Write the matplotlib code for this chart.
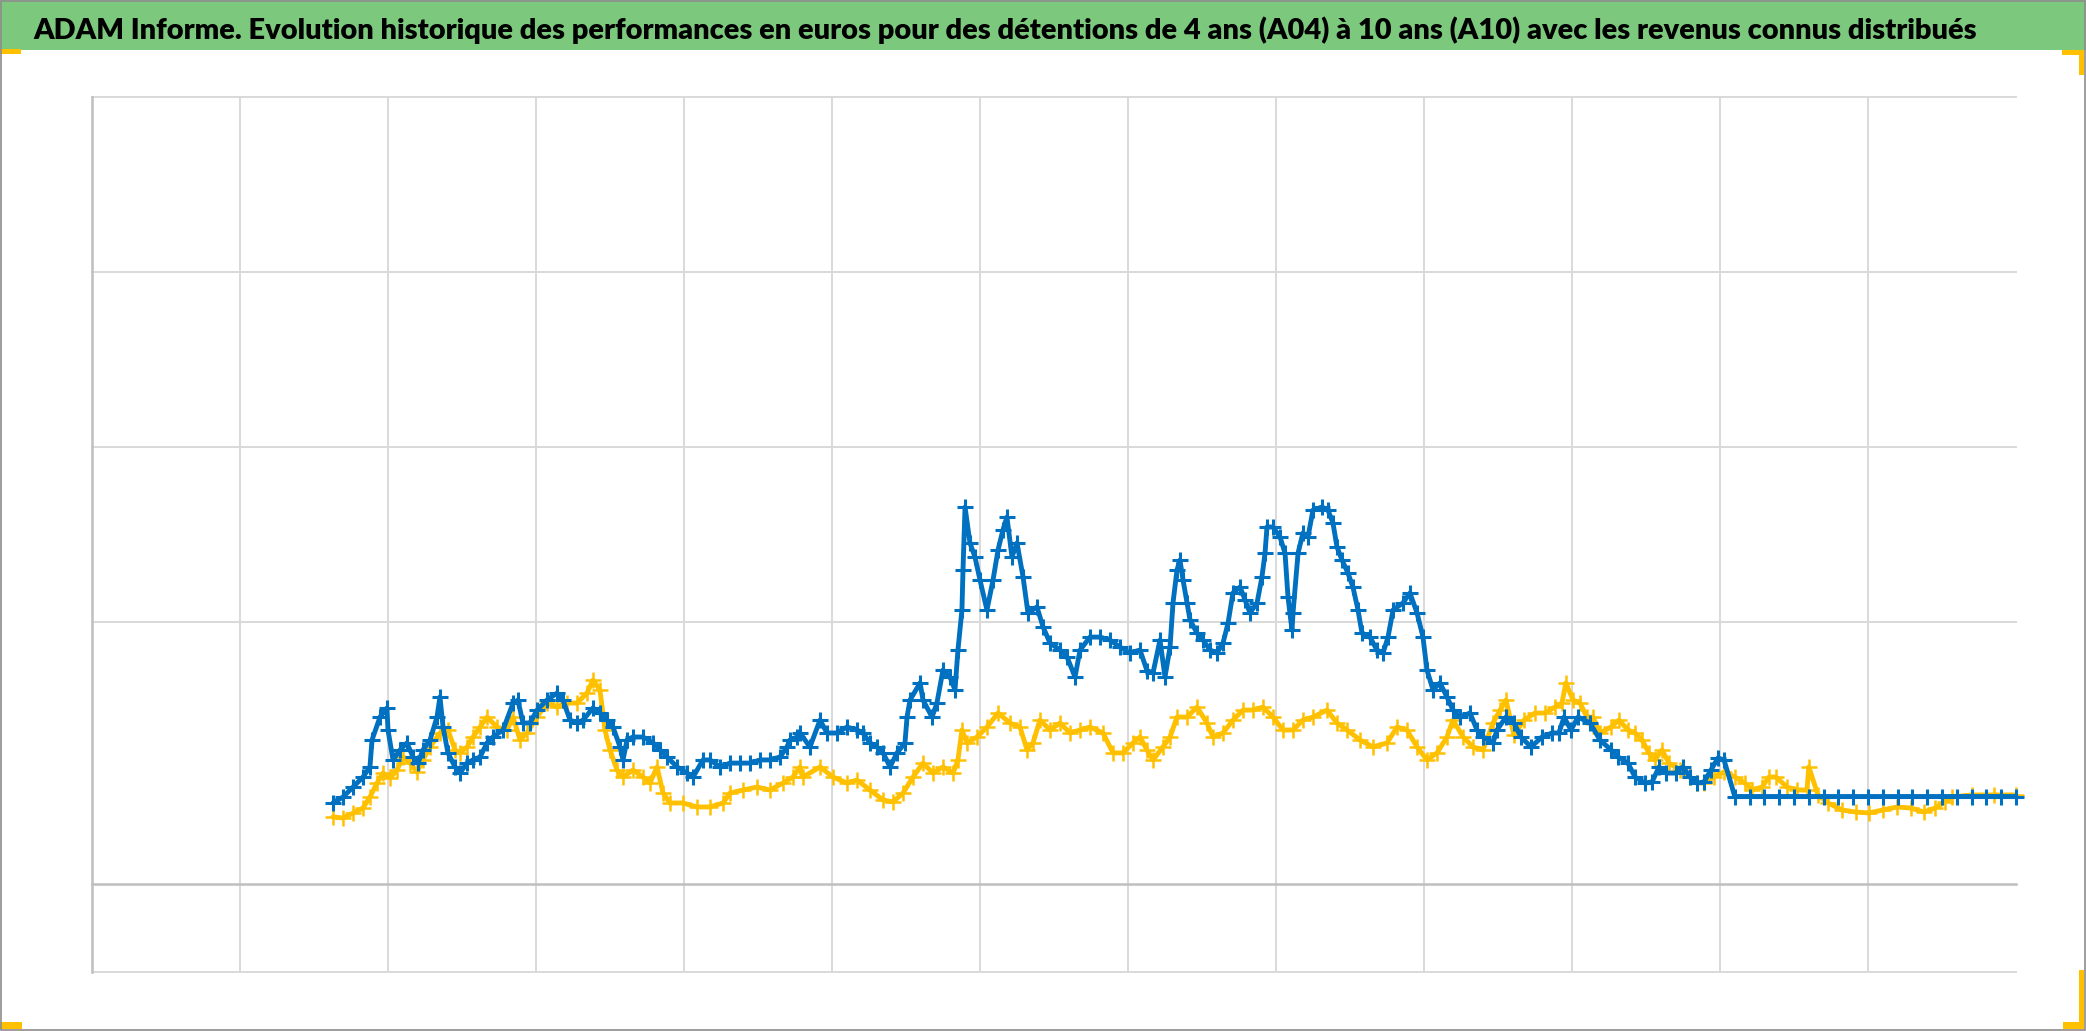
import matplotlib
matplotlib.use("Agg")
import matplotlib.pyplot as plt
from matplotlib import font_manager as fm
from matplotlib.patches import Rectangle

TITLE = ("ADAM Informe. Evolution historique des performances en euros pour des "
         "détentions de 4 ans (A04) à 10 ans (A10) avec les revenus connus distribués")

# ---- data (x in axis units 0..13, y in axis units, axis crosses at 0) ----
blue_x = [1.628, 1.696, 1.764, 1.831, 1.878, 1.892, 1.946, 1.993, 2.000, 2.034,
          2.081, 2.128, 2.169, 2.203, 2.236, 2.284, 2.331, 2.351, 2.372, 2.405,
          2.453, 2.486, 2.534, 2.574, 2.622, 2.669, 2.709, 2.777, 2.845, 2.878,
          2.912, 2.959, 3.007, 3.074, 3.142, 3.182, 3.230, 3.277, 3.318, 3.385,
          3.432, 3.480, 3.520, 3.568, 3.588, 3.615, 3.655, 3.723, 3.791, 3.838,
          3.885, 3.953, 4.020, 4.061, 4.128, 4.176, 4.243, 4.311, 4.379, 4.446,
          4.514, 4.581, 4.649, 4.696, 4.716, 4.764, 4.784, 4.851, 4.919, 4.966,
          5.034, 5.101, 5.169, 5.209, 5.257, 5.304, 5.345, 5.392, 5.439, 5.493,
          5.507, 5.527, 5.595, 5.615, 5.676, 5.709, 5.750, 5.797, 5.831, 5.851,
          5.878, 5.885, 5.899, 5.932, 5.966, 6.000, 6.047, 6.088, 6.122, 6.155,
          6.182, 6.216, 6.250, 6.291, 6.324, 6.385, 6.426, 6.473, 6.541, 6.588,
          6.642, 6.676, 6.743, 6.811, 6.878, 6.946, 7.014, 7.081, 7.128, 7.169,
          7.216, 7.250, 7.284, 7.304, 7.331, 7.351, 7.372, 7.399, 7.419, 7.466,
          7.507, 7.554, 7.601, 7.642, 7.676, 7.709, 7.757, 7.791, 7.824, 7.872,
          7.905, 7.926, 7.939, 7.980, 8.027, 8.061, 8.081, 8.108, 8.115, 8.149,
          8.182, 8.216, 8.250, 8.311, 8.351, 8.385, 8.412, 8.446, 8.486, 8.520,
          8.554, 8.581, 8.635, 8.682, 8.723, 8.757, 8.791, 8.858, 8.905, 8.953,
          8.993, 9.020, 9.061, 9.108, 9.155, 9.196, 9.243, 9.311, 9.358, 9.399,
          9.466, 9.493, 9.554, 9.608, 9.655, 9.723, 9.797, 9.865, 9.912, 9.946,
          9.993, 10.041, 10.122, 10.189, 10.264, 10.311, 10.378, 10.426, 10.493, 10.541,
          10.588, 10.635, 10.703, 10.750, 10.797, 10.845, 10.892, 10.939, 10.986, 11.027,
          11.1, 11.2, 11.3, 11.4, 11.5, 11.6, 11.7, 11.8, 11.9, 12.0,
          12.1, 12.2, 12.3, 12.4, 12.5, 12.6, 12.7, 12.8, 12.9, 13.0]
blue_y = [0.463, 0.497, 0.554, 0.611, 0.669, 0.823, 0.954, 1.006, 0.880, 0.709,
          0.766, 0.806, 0.726, 0.691, 0.766, 0.823, 0.954, 1.069, 0.897, 0.749,
          0.669, 0.634, 0.691, 0.709, 0.726, 0.806, 0.840, 0.880, 1.034, 1.051,
          0.920, 0.920, 0.994, 1.051, 1.091, 1.051, 0.937, 0.920, 0.937, 1.006,
          0.977, 0.937, 0.897, 0.783, 0.709, 0.823, 0.840, 0.840, 0.806, 0.766,
          0.726, 0.669, 0.634, 0.611, 0.709, 0.709, 0.669, 0.691, 0.691, 0.691,
          0.709, 0.709, 0.726, 0.783, 0.823, 0.840, 0.863, 0.783, 0.937, 0.863,
          0.863, 0.897, 0.880, 0.863, 0.806, 0.783, 0.749, 0.669, 0.749, 0.806,
          0.954, 1.051, 1.149, 1.051, 0.954, 1.034, 1.223, 1.183, 1.109, 1.337,
          1.566, 1.794, 2.154, 1.949, 1.869, 1.737, 1.566, 1.737, 1.909, 2.023,
          2.097, 1.869, 1.949, 1.754, 1.549, 1.583, 1.469, 1.377, 1.337, 1.297,
          1.183, 1.337, 1.411, 1.411, 1.394, 1.354, 1.320, 1.337, 1.220, 1.206,
          1.394, 1.183, 1.354, 1.606, 1.794, 1.851, 1.737, 1.606, 1.509, 1.434,
          1.394, 1.337, 1.320, 1.377, 1.491, 1.663, 1.697, 1.623, 1.549, 1.606,
          1.754, 1.891, 2.040, 2.040, 1.983, 1.891, 1.640, 1.451, 1.549, 1.891,
          2.006, 1.983, 2.137, 2.154, 2.137, 2.063, 1.926, 1.851, 1.777, 1.697,
          1.566, 1.434, 1.411, 1.337, 1.320, 1.411, 1.566, 1.606, 1.663, 1.549,
          1.411, 1.223, 1.109, 1.149, 1.069, 0.994, 0.954, 0.977, 0.880, 0.840,
          0.806, 0.880, 0.954, 0.920, 0.840, 0.783, 0.840, 0.863, 0.863, 0.954,
          0.880, 0.954, 0.920, 0.823, 0.766, 0.726, 0.691, 0.611, 0.577, 0.583,
          0.669, 0.634, 0.634, 0.669, 0.611, 0.577, 0.583, 0.651, 0.720, 0.709,
          0.5, 0.5, 0.5, 0.5, 0.5, 0.5, 0.5, 0.5, 0.5, 0.5,
          0.5, 0.5, 0.5, 0.5, 0.5, 0.5, 0.5, 0.5, 0.5, 0.5]

gold_x = [1.628, 1.696, 1.764, 1.831, 1.878, 1.926, 1.966, 2.014, 2.061, 2.101,
          2.149, 2.196, 2.236, 2.284, 2.351, 2.405, 2.453, 2.486, 2.534, 2.574,
          2.622, 2.669, 2.736, 2.804, 2.845, 2.892, 2.939, 3.007, 3.074, 3.142,
          3.209, 3.277, 3.345, 3.385, 3.432, 3.466, 3.500, 3.547, 3.588, 3.655,
          3.723, 3.770, 3.818, 3.858, 3.905, 3.993, 4.088, 4.176, 4.264, 4.311,
          4.399, 4.493, 4.581, 4.669, 4.736, 4.784, 4.804, 4.919, 5.007, 5.101,
          5.169, 5.257, 5.345, 5.412, 5.480, 5.547, 5.615, 5.682, 5.750, 5.818,
          5.851, 5.878, 5.912, 5.980, 6.047, 6.122, 6.203, 6.270, 6.318, 6.358,
          6.405, 6.473, 6.541, 6.608, 6.676, 6.743, 6.831, 6.899, 6.966, 7.034,
          7.081, 7.128, 7.169, 7.236, 7.284, 7.331, 7.399, 7.466, 7.534, 7.574,
          7.642, 7.709, 7.777, 7.845, 7.912, 7.980, 8.047, 8.115, 8.182, 8.250,
          8.345, 8.412, 8.480, 8.568, 8.655, 8.750, 8.818, 8.885, 8.953, 9.020,
          9.088, 9.155, 9.196, 9.264, 9.331, 9.399, 9.466, 9.514, 9.554, 9.608,
          9.676, 9.750, 9.818, 9.885, 9.932, 9.959, 10.007, 10.054, 10.101, 10.142,
          10.189, 10.264, 10.318, 10.378, 10.426, 10.473, 10.520, 10.561, 10.608, 10.655,
          10.730, 10.797, 10.845, 10.892, 10.959, 11.027, 11.101, 11.169, 11.216, 11.284,
          11.331, 11.378, 11.453, 11.520, 11.588, 11.600, 11.662, 11.730, 11.824, 11.919,
          12.007, 12.101, 12.196, 12.291, 12.378, 12.453, 12.520, 12.568, 12.7, 12.85, 13.0]
gold_y = [0.383, 0.377, 0.406, 0.434, 0.497, 0.577, 0.634, 0.606, 0.651, 0.726,
          0.691, 0.640, 0.709, 0.783, 0.863, 0.880, 0.766, 0.749, 0.783, 0.840,
          0.897, 0.954, 0.897, 0.880, 0.954, 0.823, 0.863, 0.954, 1.034, 1.011,
          1.034, 1.034, 1.091, 1.166, 1.109, 0.880, 0.766, 0.651, 0.611, 0.651,
          0.611, 0.577, 0.669, 0.520, 0.463, 0.463, 0.440, 0.440, 0.463, 0.520,
          0.537, 0.554, 0.537, 0.577, 0.611, 0.669, 0.611, 0.669, 0.611, 0.577,
          0.594, 0.537, 0.480, 0.469, 0.520, 0.611, 0.691, 0.634, 0.669, 0.634,
          0.709, 0.880, 0.806, 0.840, 0.897, 0.977, 0.920, 0.897, 0.766, 0.806,
          0.937, 0.880, 0.920, 0.863, 0.880, 0.897, 0.863, 0.749, 0.749, 0.806,
          0.840, 0.766, 0.709, 0.783, 0.840, 0.954, 0.954, 1.011, 0.920, 0.840,
          0.863, 0.937, 0.994, 0.994, 1.011, 0.954, 0.880, 0.880, 0.937, 0.954,
          0.994, 0.920, 0.880, 0.823, 0.783, 0.806, 0.897, 0.880, 0.783, 0.709,
          0.749, 0.840, 0.937, 0.840, 0.783, 0.766, 0.920, 0.994, 1.051, 0.850,
          0.937, 0.977, 0.977, 1.011, 1.034, 1.149, 1.051, 1.034, 0.954, 0.954,
          0.863, 0.897, 0.937, 0.880, 0.863, 0.823, 0.749, 0.709, 0.766, 0.691,
          0.651, 0.611, 0.577, 0.577, 0.611, 0.640, 0.611, 0.577, 0.537, 0.554,
          0.611, 0.611, 0.554, 0.537, 0.537, 0.669, 0.509, 0.463, 0.423, 0.411,
          0.406, 0.423, 0.440, 0.434, 0.411, 0.434, 0.469, 0.497, 0.509, 0.509, 0.509]

x_grid = [1, 2, 3, 4, 5, 6, 7, 8, 9, 10, 11, 12]
y_grid = [-0.5, 1.5, 2.5, 3.5, 4.5]

BLUE = "#0070C0"
GOLD = "#FFC000"
GREEN = "#7CC97E"
GRID = "#D9D9D9"
AXIS = "#BFBFBF"

W, H = 2086, 1031
fig = plt.figure(figsize=(W / 100, H / 100), dpi=100)
fig.patch.set_facecolor("white")

# title bar
fig.patches.append(Rectangle((0, 1 - 50 / H), 1, 50 / H, transform=fig.transFigure,
                             facecolor=GREEN, edgecolor="none", zorder=0))

names = {f.name for f in fm.fontManager.ttflist}
fam = "DejaVu Sans"
for cand in ["Liberation Sans Narrow", "DejaVu Sans Condensed", "Lato", "Open Sans", "DejaVu Sans"]:
    if cand in names:
        fam = cand
        break
t = fig.text(33 / W, 1 - 39 / H, TITLE, ha="left", va="baseline",
             fontsize=22, fontweight="heavy", family=[fam, "DejaVu Sans"], color="black")
fig.canvas.draw()
bb = t.get_window_extent(fig.canvas.get_renderer())
t.set_fontsize(t.get_fontsize() * 1947 / bb.width)

# plot area
ax = fig.add_axes([92 / W, (H - 971.5) / H, 1924 / W, 875 / H])
ax.set_xlim(0, 13)
ax.set_ylim(-0.5, 4.5)
for s in ax.spines.values():
    s.set_visible(False)
ax.set_xticks([])
ax.set_yticks([])
ax.patch.set_alpha(0)

for xv in x_grid:
    ax.axvline(xv, color=GRID, lw=1.4, zorder=0, clip_on=False)
for yv in y_grid:
    ax.axhline(yv, color=GRID, lw=1.4, zorder=0, clip_on=False)
ax.axhline(0, color=AXIS, lw=1.8, zorder=1, clip_on=False)
ax.axvline(0, color=AXIS, lw=1.8, zorder=1, clip_on=False)

ax.plot(gold_x, gold_y, color=GOLD, lw=3.5, marker="+", ms=11, mew=1.8,
        zorder=2, clip_on=False, solid_joinstyle="round", solid_capstyle="round")
ax.plot(blue_x, blue_y, color=BLUE, lw=3.5, marker="+", ms=11, mew=2.2,
        zorder=3, clip_on=False, solid_joinstyle="round", solid_capstyle="round")

# gold corner brackets
def frect(x0, y0, x1, y1, color):
    fig.patches.append(Rectangle((x0 / W, 1 - y1 / H), (x1 - x0) / W, (y1 - y0) / H,
                                 transform=fig.transFigure, facecolor=color,
                                 edgecolor="none", zorder=5))

frect(0, 49, 21, 54, GOLD)
frect(2062, 50, 2084, 55, GOLD)
frect(2079, 50, 2084, 75, GOLD)
frect(0, 1022, 22, 1029, GOLD)
frect(2063, 1022, 2084, 1029, GOLD)
frect(2079, 970, 2084, 1029, GOLD)

# outer frame
fig.patches.append(Rectangle((0.0004, 0.0008), 0.9990, 0.9984, transform=fig.transFigure,
                             facecolor="none", edgecolor="#8C8C8C", lw=1.2, zorder=6))

fig.savefig("out.png", dpi=100)
